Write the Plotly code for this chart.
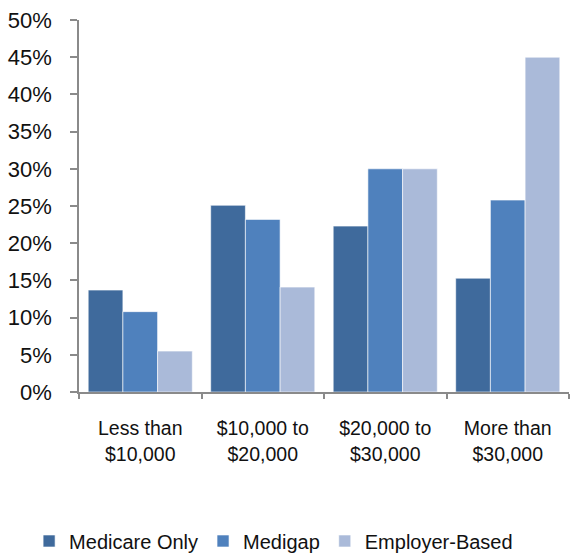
import plotly.graph_objects as go

categories = ["Less than<br>$10,000", "$10,000 to<br>$20,000", "$20,000 to<br>$30,000", "More than<br>$30,000"]
medicare_only = [13.7, 25.1, 22.3, 15.3]
medigap = [10.8, 23.2, 30.0, 25.8]
employer_based = [5.5, 14.1, 30.0, 45.0]
y_ticks = [0, 5, 10, 15, 20, 25, 30, 35, 40, 45, 50]

series = [
    ("Medicare Only", medicare_only, "#3F6A9C"),
    ("Medigap", medigap, "#4F81BD"),
    ("Employer-Based", employer_based, "#AABAD9"),
]

fig = go.Figure()
for name, vals, col in series:
    fig.add_trace(go.Bar(
        x=categories, y=vals, name=name,
        marker=dict(color=col, line=dict(color="rgba(255,255,255,0.6)", width=1)),
    ))

axis_col = "#8A8A8A"
fig.update_layout(
    width=570, height=556,
    margin=dict(l=79, r=1, t=20, b=164),
    paper_bgcolor="white", plot_bgcolor="white",
    barmode="group", bargap=0.15, bargroupgap=0,
    font=dict(family="Liberation Sans, Arial, sans-serif", color="#111111"),
    showlegend=True,
    legend=dict(orientation="h", x=0.48, xanchor="center", xref="container",
                y=0.027, yanchor="middle", yref="container",
                font=dict(size=20), traceorder="normal"),
)
fig.update_xaxes(
    showline=True, linecolor=axis_col, linewidth=1.5,
    ticks="outside", tickson="boundaries", ticklen=5, tickcolor=axis_col, tickwidth=1.5,
    tickfont=dict(size=19.5), showgrid=False, ticklabelstandoff=18,
)
fig.update_yaxes(
    range=[0, 50], tickvals=y_ticks, ticktext=[f"{v}%" for v in y_ticks],
    showline=True, linecolor=axis_col, linewidth=1.5,
    ticks="outside", ticklen=7, tickcolor=axis_col, tickwidth=1.5,
    tickfont=dict(size=22), showgrid=False, zeroline=False, ticklabelstandoff=14,
)

fig.write_html("out.html")
